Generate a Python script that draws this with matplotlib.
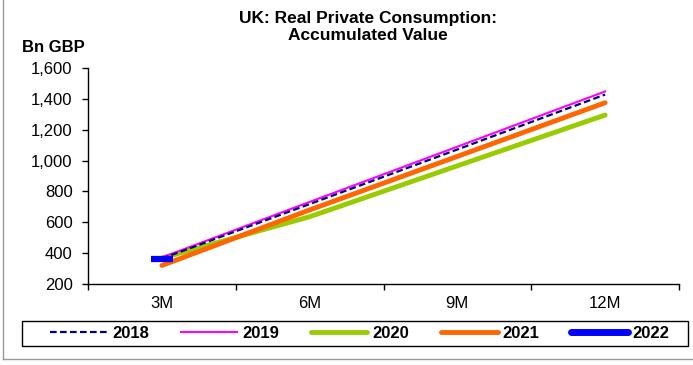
import matplotlib
matplotlib.use('Agg')
import matplotlib.pyplot as plt
from matplotlib.lines import Line2D
from matplotlib.patches import Rectangle
from matplotlib.ticker import FuncFormatter

plt.rcParams['font.family'] = ['Liberation Sans', 'DejaVu Sans']

# data (Bn GBP, accumulated)
periods = ['3M', '6M', '9M', '12M']
v2018 = [365, 718, 1072, 1428]
v2019 = [372, 732, 1090, 1448]
v2020 = [368, 636, 966, 1295]
v2021 = [320, 680, 1027, 1375]
v2022 = [360]

fig = plt.figure(figsize=(6.93, 3.65), dpi=100)
ax = fig.add_axes([88 / 693, 1 - 284 / 365, (679 - 88) / 693, (284 - 68) / 365])

x = range(len(periods))
ax.plot(x, v2018, color='#000080', lw=1.6, ls=(0, (3, 1.5)), label='2018', zorder=4)
ax.plot(x, v2019, color='#FF00FF', lw=1.5, label='2019', zorder=3)
ax.plot(x, v2020, color='#99CC00', lw=3.5, solid_capstyle='round', label='2020', zorder=2)
ax.plot(x, v2021, color='#FF6600', lw=3.5, solid_capstyle='round', label='2021', zorder=3)
ax.plot(range(len(v2022)), v2022, color='#0000FF', lw=0, marker='_',
        markersize=16.5, markeredgewidth=4.5, label='2022', zorder=5)

ax.set_xlim(-0.5, 3.5)
ax.set_ylim(200, 1600)
ax.set_yticks(range(200, 1601, 200))
ax.yaxis.set_major_formatter(FuncFormatter(lambda v, p: f'{int(v):,}'))
ax.set_xticks(x)
ax.set_xticklabels(periods)
ax.set_xticks([-0.5, 0.5, 1.5, 2.5, 3.5], minor=True)
ax.tick_params(axis='x', which='major', length=0, pad=9, labelsize=12)
ax.tick_params(axis='x', which='minor', length=4, width=1, direction='out')
ax.tick_params(axis='y', length=4, width=1, labelsize=12, pad=7)
ax.spines['top'].set_visible(False)
ax.spines['right'].set_visible(False)
for s in ['left', 'bottom']:
    ax.spines[s].set_linewidth(1)

fig.text(368 / 693, 1 - 27 / 365, 'UK: Real Private Consumption:\nAccumulated Value',
         ha='center', va='center', fontsize=12.5, fontweight='bold', linespacing=1.15)
fig.text(22 / 693, 1 - 47 / 365, 'Bn GBP', ha='left', va='center',
         fontsize=12, fontweight='bold')

# legend: frame drawn separately, entries placed inside it
fig.add_artist(Rectangle((22 / 693, 1 - 346 / 365), 666 / 693, 25 / 365,
                         transform=fig.transFigure, fill=False, edgecolor='black', lw=1))
handles = [
    Line2D([], [], color='#000080', lw=1.6, ls=(0, (3, 1.5))),
    Line2D([], [], color='#FF00FF', lw=1.5),
    Line2D([], [], color='#99CC00', lw=3.5, solid_capstyle='round'),
    Line2D([], [], color='#FF6600', lw=3.5, solid_capstyle='round'),
    Line2D([], [], color='#0000FF', lw=5, solid_capstyle='round'),
]
fig.legend(handles, ['2018', '2019', '2020', '2021', '2022'], ncol=5,
           loc='center', bbox_to_anchor=(360 / 693, 1 - 333.5 / 365),
           frameon=False, handlelength=3.4, handletextpad=0.3, columnspacing=1.9,
           borderpad=0, prop={'weight': 'bold', 'size': 12})

# grey outer border (left and bottom)
fig.add_artist(Line2D([3 / 693, 3 / 693], [1, 1 - 359 / 365], color='#999999', lw=1,
                      transform=fig.transFigure))
fig.add_artist(Line2D([3 / 693, 1], [1 - 359 / 365, 1 - 359 / 365], color='#999999', lw=1,
                      transform=fig.transFigure))

fig.savefig('out.png', dpi=100)
